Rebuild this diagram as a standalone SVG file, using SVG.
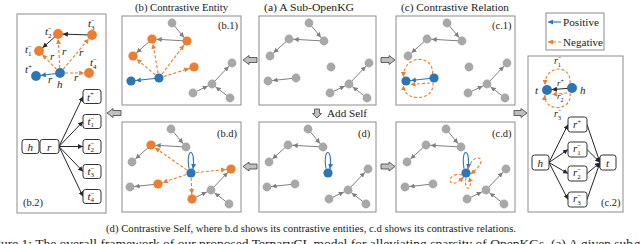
<svg xmlns="http://www.w3.org/2000/svg" width="640" height="244" viewBox="0 0 640 244">
<style>
text{font-family:"Liberation Serif","Times New Roman",serif;fill:#1a1a1a}
.t11{font-size:11px}
.lab{font-size:10.5px}
.it{font-size:11px;font-style:italic}
.sup{font-size:7px;font-style:normal}
.sub{font-size:7px;font-style:normal}
.panel{fill:#fff;stroke:#8c8c8c;stroke-width:1}
.box{fill:#fff;stroke:#333;stroke-width:1}
.g{fill:#a8a8a8}
.b{fill:#2e75b6}
.o{fill:#ed7d31}
.eg{stroke:#7f7f7f;stroke-width:1;fill:none}
.ek{stroke:#262626;stroke-width:1;fill:none}
.eb{stroke:#2e75b6;stroke-width:1.1;fill:none}
.eo{stroke:#ed7d31;stroke-width:1.1;stroke-dasharray:3 2;fill:none}
.blk{fill:#bfbfbf;stroke:#404040;stroke-width:0.8}
</style>
<defs>
<marker id="mg" viewBox="0 0 5 5" refX="9.7" refY="2.5" markerWidth="5" markerHeight="5" markerUnits="userSpaceOnUse" orient="auto"><path d="M0,0L5,2.5L0,5z" fill="#7f7f7f"/></marker>
<marker id="mk" viewBox="0 0 5 5" refX="9.9" refY="2.5" markerWidth="5" markerHeight="5" markerUnits="userSpaceOnUse" orient="auto"><path d="M0,0L5,2.5L0,5z" fill="#262626"/></marker>
<marker id="mb" viewBox="0 0 5 5" refX="9.9" refY="2.5" markerWidth="5" markerHeight="5" markerUnits="userSpaceOnUse" orient="auto"><path d="M0,0L5,2.5L0,5z" fill="#2e75b6"/></marker>
<marker id="mo" viewBox="0 0 5 5" refX="9.9" refY="2.5" markerWidth="5" markerHeight="5" markerUnits="userSpaceOnUse" orient="auto"><path d="M0,0L5,2.5L0,5z" fill="#ed7d31"/></marker>
<marker id="mo0" viewBox="0 0 5 5" refX="5" refY="2.5" markerWidth="5" markerHeight="5" markerUnits="userSpaceOnUse" orient="auto"><path d="M0,0L5,2.5L0,5z" fill="#ed7d31"/></marker>
<marker id="mb0" viewBox="0 0 5 5" refX="5" refY="2.5" markerWidth="5" markerHeight="5" markerUnits="userSpaceOnUse" orient="auto"><path d="M0,0L5,2.5L0,5z" fill="#2e75b6"/></marker>
<marker id="mk0" viewBox="0 0 5 5" refX="5" refY="2.5" markerWidth="5" markerHeight="5" markerUnits="userSpaceOnUse" orient="auto"><path d="M0,0L5,2.5L0,5z" fill="#262626"/></marker>
</defs>
<rect width="640" height="244" fill="#fff"/>

<!-- titles -->
<text class="t11" x="135" y="10.5" textLength="93" lengthAdjust="spacingAndGlyphs">(b) Contrastive Entity</text>
<text class="t11" x="264" y="10.5" textLength="90" lengthAdjust="spacingAndGlyphs">(a) A Sub-OpenKG</text>
<text class="t11" x="401" y="10.5" textLength="108" lengthAdjust="spacingAndGlyphs">(c) Contrastive Relation</text>

<!-- legend -->
<g id="legend">
<rect x="546" y="13" width="58" height="37" class="panel"/>
<line x1="561" y1="22" x2="548" y2="22" class="eb" marker-end="url(#mb0)"/>
<text class="t11" x="563" y="25.5" textLength="36" lengthAdjust="spacingAndGlyphs">Positive</text>
<line x1="561" y1="42" x2="548" y2="42" class="eo" marker-end="url(#mo0)"/>
<text class="t11" x="563" y="45.5" textLength="40" lengthAdjust="spacingAndGlyphs">Negative</text>
</g>

<!-- panel (a) -->
<g id="panel-a">
<rect x="259" y="16" width="117" height="89" class="panel"/>
<g id="edges-a">
<line x1="309" y1="23" x2="324" y2="41" class="eg" marker-end="url(#mg)"/>
<line x1="324" y1="41" x2="289" y2="39" class="eg" marker-end="url(#mg)"/>
<line x1="289" y1="39" x2="270" y2="56" class="eg" marker-end="url(#mg)"/>
<line x1="296" y1="78" x2="268" y2="81" class="eg" marker-end="url(#mg)"/>
<line x1="330" y1="93" x2="349" y2="84" class="eg" marker-end="url(#mg)"/>
<line x1="367" y1="98" x2="349" y2="84" class="eg" marker-end="url(#mg)"/>
<line x1="349" y1="84" x2="369" y2="63" class="eg" marker-end="url(#mg)"/>
</g>
<g id="nodes-a">
<circle id="a-A" cx="309" cy="23" r="4.4" class="g"/>
<circle id="a-B" cx="324" cy="41" r="4.4" class="g"/>
<circle id="a-C" cx="289" cy="39" r="4.4" class="g"/>
<circle id="a-D" cx="270" cy="56" r="4.4" class="g"/>
<circle id="a-E" cx="331" cy="67" r="4.4" class="g"/>
<circle id="a-F" cx="369" cy="63" r="4.4" class="g"/>
<circle id="a-G" cx="349" cy="84" r="4.4" class="g"/>
<circle id="a-H" cx="330" cy="93" r="4.4" class="g"/>
<circle id="a-I" cx="367" cy="98" r="4.4" class="g"/>
<circle id="a-J" cx="268" cy="81" r="4.4" class="g"/>
<circle id="a-K" cx="296" cy="78" r="4.4" class="g"/>
</g>
</g>

<!-- panel (b.1) -->
<g id="panel-b1">
<rect x="122" y="16" width="119" height="89" class="panel"/>
<text class="lab" x="218" y="28.5">(b.1)</text>
<g transform="translate(-137,0)">
<g id="edges-b1">
<line x1="309" y1="23" x2="324" y2="41" class="eg" marker-end="url(#mg)"/>
<line x1="324" y1="41" x2="289" y2="39" class="eg" marker-end="url(#mg)"/>
<line x1="289" y1="39" x2="270" y2="56" class="eg" marker-end="url(#mg)"/>
<line x1="296" y1="78" x2="268" y2="81" class="eb" marker-end="url(#mb)"/>
<line x1="296" y1="78" x2="270" y2="56" class="eo" marker-end="url(#mo)"/>
<line x1="296" y1="78" x2="289" y2="39" class="eo" marker-end="url(#mo)"/>
<line x1="296" y1="78" x2="324" y2="41" class="eo" marker-end="url(#mo)"/>
<line x1="296" y1="78" x2="331" y2="67" class="eo" marker-end="url(#mo)"/>
<line x1="330" y1="93" x2="349" y2="84" class="eg" marker-end="url(#mg)"/>
<line x1="367" y1="98" x2="349" y2="84" class="eg" marker-end="url(#mg)"/>
<line x1="349" y1="84" x2="369" y2="63" class="eg" marker-end="url(#mg)"/>
</g>
<g id="nodes-b1">
<circle id="b1-A" cx="309" cy="23" r="4.4" class="g"/>
<circle id="b1-B" cx="324" cy="41" r="4.6" class="o"/>
<circle id="b1-C" cx="289" cy="39" r="4.6" class="o"/>
<circle id="b1-D" cx="270" cy="56" r="4.6" class="o"/>
<circle id="b1-E" cx="331" cy="67" r="4.6" class="o"/>
<circle id="b1-F" cx="369" cy="63" r="4.4" class="g"/>
<circle id="b1-G" cx="349" cy="84" r="4.4" class="g"/>
<circle id="b1-H" cx="330" cy="93" r="4.4" class="g"/>
<circle id="b1-I" cx="367" cy="98" r="4.4" class="g"/>
<circle id="b1-J" cx="268" cy="81" r="4.6" class="b"/>
<circle id="b1-K" cx="296" cy="78" r="4.6" class="b"/>
</g>
</g>
</g>

<!-- panel (c.1) -->
<g id="panel-c1">
<rect x="396" y="16" width="119" height="89" class="panel"/>
<text class="lab" x="492" y="28.5">(c.1)</text>
<g transform="translate(138,0)">
<g id="edges-c1">
<line x1="309" y1="23" x2="324" y2="41" class="eg" marker-end="url(#mg)"/>
<line x1="324" y1="41" x2="289" y2="39" class="eg" marker-end="url(#mg)"/>
<line x1="289" y1="39" x2="270" y2="56" class="eg" marker-end="url(#mg)"/>
<line x1="296" y1="78" x2="268" y2="81" class="eb" marker-end="url(#mb)"/>
<path d="M294.5,74 C296,54 265,54 265.5,77" class="eo" marker-end="url(#mo0)"/>
<path d="M295,82.5 C297,102 265,102 265.5,85.5" class="eo" marker-end="url(#mo0)"/>
<line x1="292" y1="83" x2="272.5" y2="84.5" class="eo" marker-end="url(#mo0)"/>
<line x1="330" y1="93" x2="349" y2="84" class="eg" marker-end="url(#mg)"/>
<line x1="367" y1="98" x2="349" y2="84" class="eg" marker-end="url(#mg)"/>
<line x1="349" y1="84" x2="369" y2="63" class="eg" marker-end="url(#mg)"/>
</g>
<g id="nodes-c1">
<circle id="c1-A" cx="309" cy="23" r="4.4" class="g"/>
<circle id="c1-B" cx="324" cy="41" r="4.4" class="g"/>
<circle id="c1-C" cx="289" cy="39" r="4.4" class="g"/>
<circle id="c1-D" cx="270" cy="56" r="4.4" class="g"/>
<circle id="c1-E" cx="331" cy="67" r="4.4" class="g"/>
<circle id="c1-F" cx="369" cy="63" r="4.4" class="g"/>
<circle id="c1-G" cx="349" cy="84" r="4.4" class="g"/>
<circle id="c1-H" cx="330" cy="93" r="4.4" class="g"/>
<circle id="c1-I" cx="367" cy="98" r="4.4" class="g"/>
<circle id="c1-J" cx="268" cy="81" r="4.6" class="b"/>
<circle id="c1-K" cx="296" cy="78" r="4.6" class="b"/>
</g>
</g>
</g>

<!-- panel (d) -->
<g id="panel-d">
<rect x="259" y="122" width="117" height="90" class="panel"/>
<text class="lab" x="358" y="136.5">(d)</text>
<g transform="translate(-1,106)">
<g id="edges-d">
<line x1="309" y1="23" x2="324" y2="41" class="eg" marker-end="url(#mg)"/>
<line x1="324" y1="41" x2="289" y2="39" class="eg" marker-end="url(#mg)"/>
<line x1="289" y1="39" x2="270" y2="56" class="eg" marker-end="url(#mg)"/>
<line x1="296" y1="78" x2="268" y2="81" class="eg" marker-end="url(#mg)"/>
<line x1="330" y1="93" x2="349" y2="84" class="eg" marker-end="url(#mg)"/>
<line x1="367" y1="98" x2="349" y2="84" class="eg" marker-end="url(#mg)"/>
<line x1="349" y1="84" x2="369" y2="63" class="eg" marker-end="url(#mg)"/>
<path d="M327,62.7 C323.5,41 334,41 331,63" class="eb" marker-end="url(#mb0)"/>
</g>
<g id="nodes-d">
<circle id="d-A" cx="309" cy="23" r="4.4" class="g"/>
<circle id="d-B" cx="324" cy="41" r="4.4" class="g"/>
<circle id="d-C" cx="289" cy="39" r="4.4" class="g"/>
<circle id="d-D" cx="270" cy="56" r="4.4" class="g"/>
<circle id="d-E" cx="329" cy="67" r="4.6" class="b"/>
<circle id="d-F" cx="369" cy="63" r="4.4" class="g"/>
<circle id="d-G" cx="349" cy="84" r="4.4" class="g"/>
<circle id="d-H" cx="330" cy="93" r="4.4" class="g"/>
<circle id="d-I" cx="367" cy="98" r="4.4" class="g"/>
<circle id="d-J" cx="268" cy="81" r="4.4" class="g"/>
<circle id="d-K" cx="296" cy="78" r="4.4" class="g"/>
</g>
</g>
</g>

<!-- panel (b.d) -->
<g id="panel-bd">
<rect x="122" y="122" width="119" height="90" class="panel"/>
<text class="lab" x="217" y="136.5">(b.d)</text>
<g transform="translate(-138,106)">
<g id="edges-bd">
<line x1="309" y1="23" x2="324" y2="41" class="eg" marker-end="url(#mg)"/>
<line x1="324" y1="41" x2="289" y2="39" class="eg" marker-end="url(#mg)"/>
<line x1="289" y1="39" x2="270" y2="56" class="eg" marker-end="url(#mg)"/>
<line x1="296" y1="78" x2="268" y2="81" class="eg" marker-end="url(#mg)"/>
<line x1="330" y1="93" x2="349" y2="84" class="eg" marker-end="url(#mg)"/>
<line x1="367" y1="98" x2="349" y2="84" class="eg" marker-end="url(#mg)"/>
<line x1="349" y1="84" x2="369" y2="63" class="eg" marker-end="url(#mg)"/>
<line x1="329" y1="67" x2="289" y2="39" class="eo" marker-end="url(#mo)"/>
<line x1="329" y1="67" x2="296" y2="78" class="eo" marker-end="url(#mo)"/>
<line x1="329" y1="67" x2="330" y2="93" class="eo" marker-end="url(#mo)"/>
<line x1="329" y1="67" x2="369" y2="63" class="eo" marker-end="url(#mo)"/>
<path d="M327,62.7 C323.5,41 334,41 331,63" class="eb" marker-end="url(#mb0)"/>
</g>
<g id="nodes-bd">
<circle id="bd-A" cx="309" cy="23" r="4.4" class="g"/>
<circle id="bd-B" cx="324" cy="41" r="4.4" class="g"/>
<circle id="bd-C" cx="289" cy="39" r="4.6" class="o"/>
<circle id="bd-D" cx="270" cy="56" r="4.4" class="g"/>
<circle id="bd-E" cx="329" cy="67" r="4.6" class="b"/>
<circle id="bd-F" cx="369" cy="63" r="4.6" class="o"/>
<circle id="bd-G" cx="349" cy="84" r="4.4" class="g"/>
<circle id="bd-H" cx="330" cy="93" r="4.6" class="o"/>
<circle id="bd-I" cx="367" cy="98" r="4.4" class="g"/>
<circle id="bd-J" cx="268" cy="81" r="4.4" class="g"/>
<circle id="bd-K" cx="296" cy="78" r="4.6" class="o"/>
</g>
</g>
</g>

<!-- panel (c.d) -->
<g id="panel-cd">
<rect x="396" y="122" width="119" height="90" class="panel"/>
<text class="lab" x="492" y="136.5">(c.d)</text>
<g transform="translate(137,106)">
<g id="edges-cd">
<line x1="309" y1="23" x2="324" y2="41" class="eg" marker-end="url(#mg)"/>
<line x1="324" y1="41" x2="289" y2="39" class="eg" marker-end="url(#mg)"/>
<line x1="289" y1="39" x2="270" y2="56" class="eg" marker-end="url(#mg)"/>
<line x1="296" y1="78" x2="268" y2="81" class="eg" marker-end="url(#mg)"/>
<line x1="330" y1="93" x2="349" y2="84" class="eg" marker-end="url(#mg)"/>
<line x1="367" y1="98" x2="349" y2="84" class="eg" marker-end="url(#mg)"/>
<line x1="349" y1="84" x2="369" y2="63" class="eg" marker-end="url(#mg)"/>
<path d="M327,62.7 C323.5,41 334,41 331,63" class="eb" marker-end="url(#mb0)"/>
<path d="M331.5,62.5 C336,44 356,52 333.5,68" class="eo" marker-end="url(#mo0)"/>
<path d="M325,69 C308,65 310,88 326.5,71" class="eo" marker-end="url(#mo0)"/>
<path d="M329,71.5 C326,86 337,86 332,71" class="eo" marker-end="url(#mo0)"/>
</g>
<g id="nodes-cd">
<circle id="cd-A" cx="309" cy="23" r="4.4" class="g"/>
<circle id="cd-B" cx="324" cy="41" r="4.4" class="g"/>
<circle id="cd-C" cx="289" cy="39" r="4.4" class="g"/>
<circle id="cd-D" cx="270" cy="56" r="4.4" class="g"/>
<circle id="cd-E" cx="329" cy="67" r="4.6" class="b"/>
<circle id="cd-F" cx="369" cy="63" r="4.4" class="g"/>
<circle id="cd-G" cx="349" cy="84" r="4.4" class="g"/>
<circle id="cd-H" cx="330" cy="93" r="4.4" class="g"/>
<circle id="cd-I" cx="367" cy="98" r="4.4" class="g"/>
<circle id="cd-J" cx="268" cy="81" r="4.4" class="g"/>
<circle id="cd-K" cx="296" cy="78" r="4.4" class="g"/>
</g>
</g>
</g>

<!-- panel (b.2) -->
<g id="panel-b2">
<rect x="17" y="14" width="89" height="199" class="panel"/>
<g id="edges-b2">
<line x1="92" y1="35" x2="58" y2="34" class="ek" marker-end="url(#mk)"/>
<line x1="58" y1="34" x2="39" y2="51" class="ek" marker-end="url(#mk)"/>
<line x1="60" y1="73" x2="36" y2="76" class="eb" marker-end="url(#mb)"/>
<line x1="60" y1="73" x2="39" y2="51" class="eo" marker-end="url(#mo)"/>
<line x1="60" y1="73" x2="58" y2="34" class="eo" marker-end="url(#mo)"/>
<line x1="60" y1="73" x2="92" y2="35" class="eo" marker-end="url(#mo)"/>
<line x1="60" y1="73" x2="89" y2="73" class="eo" marker-end="url(#mo)"/>
<line x1="59" y1="146.5" x2="83" y2="96.5" class="ek" marker-end="url(#mk0)"/>
<line x1="59" y1="146.5" x2="83" y2="121.5" class="ek" marker-end="url(#mk0)"/>
<line x1="59" y1="146.5" x2="83" y2="146.5" class="ek" marker-end="url(#mk0)"/>
<line x1="59" y1="146.5" x2="83" y2="171.5" class="ek" marker-end="url(#mk0)"/>
<line x1="59" y1="146.5" x2="83" y2="196.5" class="ek" marker-end="url(#mk0)"/>
</g>
<g id="nodes-b2">
<circle id="b2-t2" cx="58" cy="34" r="4.9" class="o"/>
<circle id="b2-t3" cx="92" cy="35" r="4.9" class="o"/>
<circle id="b2-t1" cx="39" cy="51" r="4.9" class="o"/>
<circle id="b2-t4" cx="89" cy="73" r="4.9" class="o"/>
<circle id="b2-h" cx="60" cy="73" r="4.9" class="b"/>
<circle id="b2-tp" cx="36" cy="76" r="4.9" class="b"/>
</g>
<g id="labels-b2">
<text class="it" x="45" y="35">t<tspan class="sup" dy="-4.5">−</tspan><tspan class="sub" dx="-4" dy="7">2</tspan></text>
<text class="it" x="88" y="27">t<tspan class="sup" dy="-4.5">−</tspan><tspan class="sub" dx="-4" dy="7">3</tspan></text>
<text class="it" x="25" y="53">t<tspan class="sup" dy="-4.5">−</tspan><tspan class="sub" dx="-4" dy="7">1</tspan></text>
<text class="it" x="90" y="66">t<tspan class="sup" dy="-4.5">−</tspan><tspan class="sub" dx="-4" dy="7">4</tspan></text>
<text class="it" x="25" y="73">t<tspan class="sup" dy="-4.5">+</tspan></text>
<text class="it" x="57" y="88">h</text>
<text class="it" x="50" y="60">r</text>
<text class="it" x="62" y="55">r</text>
<text class="it" x="79" y="56">r</text>
<text class="it" x="74" y="81">r</text>
<text class="it" x="48" y="83">r</text>
</g>
<g id="boxes-b2">
<rect x="22" y="139.5" width="17" height="14" rx="2.5" class="box"/>
<text class="it" x="27.5" y="150.5">h</text>
<rect x="40" y="139.5" width="19" height="14" rx="2.5" class="box"/>
<text class="it" x="47" y="150.5">r</text>
<rect x="83" y="89.5" width="18" height="14" rx="2.5" class="box"/>
<text class="it" x="87" y="100.5">t<tspan class="sup" dy="-4.5">+</tspan></text>
<rect x="83" y="114.5" width="18" height="14" rx="2.5" class="box"/>
<text class="it" x="87.5" y="124.5">t<tspan class="sup" dy="-4">−</tspan><tspan class="sub" dx="-4" dy="6.5">1</tspan></text>
<rect x="83" y="139.5" width="18" height="14" rx="2.5" class="box"/>
<text class="it" x="87.5" y="149.5">t<tspan class="sup" dy="-4">−</tspan><tspan class="sub" dx="-4" dy="6.5">2</tspan></text>
<rect x="83" y="164.5" width="18" height="14" rx="2.5" class="box"/>
<text class="it" x="87.5" y="174.5">t<tspan class="sup" dy="-4">−</tspan><tspan class="sub" dx="-4" dy="6.5">3</tspan></text>
<rect x="83" y="189.5" width="18" height="14" rx="2.5" class="box"/>
<text class="it" x="87.5" y="199.5">t<tspan class="sup" dy="-4">−</tspan><tspan class="sub" dx="-4" dy="6.5">4</tspan></text>
</g>
<text class="lab" x="23" y="206">(b.2)</text>
</g>

<!-- panel (c.2) -->
<g id="panel-c2">
<rect x="528" y="56" width="95" height="156" class="panel"/>
<g id="edges-c2">
<line x1="572" y1="88" x2="547" y2="90" class="ek" marker-end="url(#mk)"/>
<path d="M570,83.5 C572,64 545,64 545,85" class="eo" marker-end="url(#mo0)"/>
<path d="M570,93 C573,112 543,112 545,95" class="eo" marker-end="url(#mo0)"/>
<line x1="567" y1="93" x2="552" y2="94.5" class="eo" marker-end="url(#mo0)"/>
<line x1="549" y1="162.5" x2="568" y2="124.5" class="ek" marker-end="url(#mk0)"/>
<line x1="549" y1="162.5" x2="568" y2="149.5" class="ek" marker-end="url(#mk0)"/>
<line x1="549" y1="162.5" x2="568" y2="173.5" class="ek" marker-end="url(#mk0)"/>
<line x1="549" y1="162.5" x2="568" y2="199.5" class="ek" marker-end="url(#mk0)"/>
<line x1="587" y1="124.5" x2="600" y2="162.5" class="ek" marker-end="url(#mk0)"/>
<line x1="587" y1="149.5" x2="600" y2="162.5" class="ek" marker-end="url(#mk0)"/>
<line x1="587" y1="173.5" x2="600" y2="162.5" class="ek" marker-end="url(#mk0)"/>
<line x1="587" y1="199.5" x2="600" y2="162.5" class="ek" marker-end="url(#mk0)"/>
</g>
<g id="nodes-c2">
<circle id="c2-t" cx="547" cy="90" r="5" class="b"/>
<circle id="c2-h" cx="572" cy="88" r="5" class="b"/>
</g>
<g id="labels-c2">
<text class="it" x="535" y="94">t</text>
<text class="it" x="580" y="94">h</text>
<text class="it" x="554" y="64" style="font-size:10px">r<tspan class="sup" style="font-size:6.5px" dy="-4">−</tspan><tspan class="sub" style="font-size:6.5px" dx="-3.8" dy="7">1</tspan></text>
<text class="it" x="557" y="86" style="font-size:9px">r<tspan class="sup" style="font-size:6px" dy="-3.5">+</tspan></text>
<text class="it" x="557" y="99" style="font-size:9px">r<tspan class="sup" style="font-size:6px" dy="-3.5">−</tspan><tspan class="sub" style="font-size:6px" dx="-3.5" dy="6">2</tspan></text>
<text class="it" x="554" y="117" style="font-size:10px">r<tspan class="sup" style="font-size:6.5px" dy="-4">−</tspan><tspan class="sub" style="font-size:6.5px" dx="-3.8" dy="7">3</tspan></text>
</g>
<g id="boxes-c2">
<rect x="532" y="155" width="17" height="15" rx="2.5" class="box"/>
<text class="it" x="537.5" y="166.5">h</text>
<rect x="568" y="117" width="19" height="15" rx="2.5" class="box"/>
<text class="it" x="573" y="128">r<tspan class="sup" dy="-4.5">+</tspan></text>
<rect x="568" y="142" width="19" height="15" rx="2.5" class="box"/>
<text class="it" x="573" y="152">r<tspan class="sup" dy="-4">−</tspan><tspan class="sub" dx="-4" dy="6.5">1</tspan></text>
<rect x="568" y="166" width="19" height="15" rx="2.5" class="box"/>
<text class="it" x="573" y="176">r<tspan class="sup" dy="-4">−</tspan><tspan class="sub" dx="-4" dy="6.5">2</tspan></text>
<rect x="568" y="192" width="19" height="15" rx="2.5" class="box"/>
<text class="it" x="573" y="202">r<tspan class="sup" dy="-4">−</tspan><tspan class="sub" dx="-4" dy="6.5">3</tspan></text>
<rect x="600" y="155" width="16" height="15" rx="2.5" class="box"/>
<text class="it" x="606" y="166.5">t</text>
</g>
<text class="lab" x="601" y="206">(c.2)</text>
</g>

<!-- block arrows -->
<g id="block-arrows">
<path class="blk" d="M243,60 L249,55.5 L249,57.5 L257,57.5 L257,62.5 L249,62.5 L249,64.5Z"/>
<path class="blk" d="M395,60 L389,55.5 L389,57.5 L381,57.5 L381,62.5 L389,62.5 L389,64.5Z"/>
<path class="blk" d="M243,166.5 L249,162 L249,164 L257,164 L257,169 L249,169 L249,171Z"/>
<path class="blk" d="M395,166.5 L389,162 L389,164 L381,164 L381,169 L389,169 L389,171Z"/>
<path class="blk" d="M107,113 L113,108.5 L113,110.5 L121,110.5 L121,115.5 L113,115.5 L113,117.5Z"/>
<path class="blk" d="M527,113 L521,108.5 L521,110.5 L514,110.5 L514,115.5 L521,115.5 L521,117.5Z"/>
<path class="blk" d="M317,118 L312.5,113.5 L314.5,113.5 L314.5,109 L319.5,109 L319.5,113.5 L321.5,113.5Z"/>
</g>
<text class="t11" x="327" y="116.5" textLength="40" lengthAdjust="spacingAndGlyphs">Add Self</text>

<!-- captions -->
<text x="106" y="232" style="font-size:10px" textLength="410" lengthAdjust="spacingAndGlyphs">(d) Contrastive Self, where b.d shows its contrastive entities, c.d shows its contrastive relations.</text>
<text x="-17" y="248" style="font-size:13px" textLength="650" lengthAdjust="spacingAndGlyphs">Figure 1: The overall framework of our proposed TernaryCL model for alleviating sparsity of OpenKGs. (a) A given sub</text>
<text x="634" y="248" style="font-size:13px">graph</text>
</svg>
